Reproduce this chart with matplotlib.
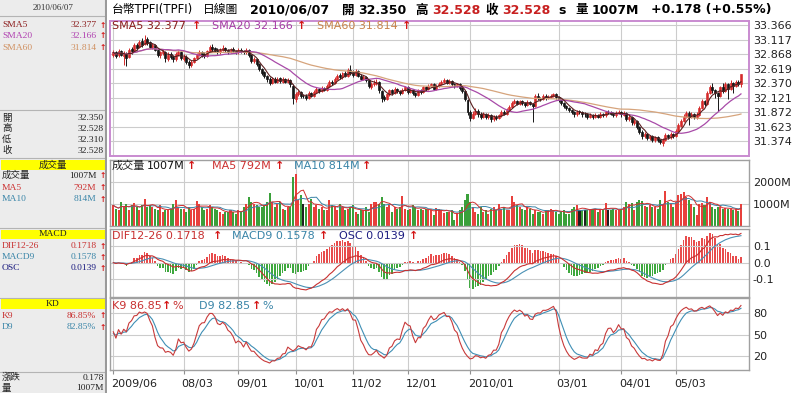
import matplotlib
matplotlib.use("Agg")
import matplotlib.pyplot as plt
import matplotlib.transforms as mtransforms
from matplotlib.patches import Rectangle
import pandas as pd

# ---- data (one value per trading day) ----
opens = [
    32.86, 32.90, 32.85, 32.92, 32.84, 32.88, 32.82, 32.96, 32.93, 33.03,
    32.99, 33.09, 33.04, 33.13, 33.08, 32.99, 33.02, 32.94, 32.85, 32.89,
    32.91, 32.79, 32.87, 32.83, 32.78, 32.87, 32.90, 32.79, 32.83, 32.74,
    32.68, 32.74, 32.80, 32.86, 32.91, 32.87, 32.84, 32.92, 33.00, 32.97,
    32.94, 32.90, 32.95, 32.98, 32.94, 32.91, 32.96, 32.93, 32.90, 32.95,
    32.92, 32.90, 32.94, 32.85, 32.75, 32.79, 32.70, 32.62, 32.56, 32.50,
    32.45, 32.38, 32.45, 32.40, 32.46, 32.40, 32.44, 32.39, 32.43, 32.33,
    32.10, 32.18, 32.22, 32.16, 32.15, 32.12, 32.20, 32.16, 32.22, 32.27,
    32.24, 32.29, 32.26, 32.32, 32.40, 32.37, 32.44, 32.51, 32.47, 32.55,
    32.50, 32.60, 32.56, 32.52, 32.58, 32.50, 32.44, 32.48, 32.42, 32.31,
    32.35, 32.37, 32.39, 32.24, 32.13, 32.10, 32.18, 32.25, 32.20, 32.27,
    32.24, 32.20, 32.26, 32.30, 32.22, 32.26, 32.20, 32.17, 32.25, 32.22,
    32.30, 32.27, 32.32, 32.35, 32.28, 32.32, 32.36, 32.39, 32.42, 32.38,
    32.41, 32.36, 32.32, 32.35, 32.29, 32.24, 32.08, 31.88, 31.78, 31.85,
    31.90, 31.84, 31.80, 31.84, 31.79, 31.83, 31.76, 31.80, 31.77, 31.82,
    31.88, 31.85, 31.92, 31.97, 32.03, 32.07, 32.02, 32.06, 32.03, 32.00,
    32.05, 32.02, 31.98, 32.15, 32.12, 32.10, 32.16, 32.12, 32.14, 32.16,
    32.18, 32.13, 32.08, 32.03, 31.98, 31.95, 31.91, 31.88, 31.84, 31.89,
    31.88, 31.85, 31.84, 31.80, 31.83, 31.79, 31.83, 31.80, 31.84, 31.82,
    31.88, 31.87, 31.85, 31.82, 31.86, 31.88, 31.83, 31.86, 31.75, 31.79,
    31.69, 31.72, 31.62, 31.54, 31.46, 31.50, 31.43, 31.46, 31.40, 31.44,
    31.40, 31.35, 31.40, 31.48, 31.44, 31.50, 31.46, 31.55, 31.64, 31.72,
    31.80, 31.86, 31.80, 31.84, 31.79, 31.83, 31.95, 32.06, 32.02, 32.20,
    32.30, 32.25, 32.20, 32.16, 32.30, 32.24, 32.35, 32.28, 32.38, 32.33,
    32.40, 32.35,
]
highs = [
    32.95, 32.93, 32.96, 32.95, 32.92, 32.90, 32.98, 33.00, 33.06, 33.07,
    33.12, 33.14, 33.20, 33.16, 33.10, 33.07, 33.04, 32.96, 32.93, 32.96,
    32.93, 32.90, 32.90, 32.86, 32.91, 32.94, 32.92, 32.87, 32.85, 32.77,
    32.77, 32.83, 32.89, 32.94, 32.93, 32.90, 32.95, 33.03, 33.04, 33.00,
    32.97, 32.98, 33.02, 33.00, 32.96, 32.98, 32.99, 32.95, 32.97, 32.97,
    32.95, 32.97, 32.96, 32.87, 32.82, 32.81, 32.72, 32.64, 32.58, 32.52,
    32.47, 32.47, 32.48, 32.48, 32.48, 32.47, 32.46, 32.46, 32.45, 32.35,
    32.22, 32.26, 32.24, 32.19, 32.18, 32.23, 32.22, 32.25, 32.30, 32.29,
    32.32, 32.31, 32.35, 32.43, 32.43, 32.47, 32.53, 32.54, 32.57, 32.58,
    32.63, 32.68, 32.60, 32.62, 32.60, 32.53, 32.51, 32.50, 32.44, 32.39,
    32.42, 32.44, 32.41, 32.26, 32.17, 32.21, 32.28, 32.27, 32.30, 32.29,
    32.26, 32.29, 32.33, 32.32, 32.29, 32.28, 32.22, 32.28, 32.27, 32.33,
    32.32, 32.35, 32.38, 32.37, 32.35, 32.39, 32.43, 32.46, 32.45, 32.44,
    32.43, 32.38, 32.38, 32.37, 32.31, 32.26, 32.10, 31.91, 31.90, 31.95,
    31.93, 31.87, 31.88, 31.86, 31.86, 31.85, 31.83, 31.83, 31.85, 31.91,
    31.91, 31.95, 32.00, 32.06, 32.10, 32.09, 32.09, 32.08, 32.05, 32.08,
    32.07, 32.04, 32.18, 32.20, 32.14, 32.19, 32.18, 32.17, 32.19, 32.21,
    32.20, 32.15, 32.10, 32.05, 32.00, 31.97, 31.93, 31.90, 31.91, 31.92,
    31.90, 31.88, 31.86, 31.86, 31.85, 31.86, 31.85, 31.87, 31.86, 31.90,
    31.91, 31.89, 31.87, 31.89, 31.91, 31.90, 31.89, 31.88, 31.82, 31.81,
    31.75, 31.74, 31.64, 31.56, 31.53, 31.52, 31.49, 31.48, 31.47, 31.46,
    31.42, 31.43, 31.51, 31.50, 31.53, 31.52, 31.58, 31.68, 31.75, 31.84,
    31.90, 31.89, 31.88, 31.86, 31.87, 31.98, 32.10, 32.08, 32.24, 32.34,
    32.37, 32.28, 32.22, 32.33, 32.38, 32.39, 32.37, 32.42, 32.40, 32.43,
    32.42, 32.528,
]
lows = [
    32.82, 32.80, 32.83, 32.84, 32.68, 32.66, 32.80, 32.88, 32.91, 32.95,
    32.97, 33.00, 33.02, 33.03, 32.97, 32.96, 32.92, 32.82, 32.80, 32.86,
    32.74, 32.76, 32.79, 32.74, 32.76, 32.84, 32.77, 32.76, 32.70, 32.63,
    32.65, 32.72, 32.78, 32.84, 32.83, 32.81, 32.82, 32.90, 32.93, 32.90,
    32.87, 32.88, 32.93, 32.91, 32.88, 32.89, 32.90, 32.87, 32.88, 32.89,
    32.87, 32.88, 32.82, 32.72, 32.72, 32.66, 32.58, 32.51, 32.46, 32.40,
    32.34, 32.36, 32.37, 32.38, 32.38, 32.38, 32.37, 32.37, 32.31, 32.02,
    32.05, 32.15, 32.12, 32.11, 32.08, 32.10, 32.13, 32.14, 32.20, 32.21,
    32.22, 32.23, 32.24, 32.30, 32.34, 32.35, 32.42, 32.44, 32.45, 32.47,
    32.48, 32.52, 32.48, 32.50, 32.47, 32.42, 32.42, 32.39, 32.29, 32.28,
    32.32, 32.34, 32.21, 32.05, 32.06, 32.08, 32.16, 32.17, 32.18, 32.21,
    32.17, 32.18, 32.24, 32.19, 32.20, 32.17, 32.13, 32.15, 32.19, 32.20,
    32.24, 32.25, 32.30, 32.25, 32.26, 32.30, 32.34, 32.37, 32.35, 32.36,
    32.33, 32.29, 32.30, 32.26, 32.21, 32.06, 31.82, 31.72, 31.75, 31.82,
    31.80, 31.76, 31.77, 31.75, 31.76, 31.70, 31.73, 31.74, 31.75, 31.80,
    31.82, 31.83, 31.90, 31.95, 32.01, 31.99, 32.00, 32.00, 31.96, 31.98,
    31.99, 31.70, 31.96, 32.09, 32.06, 32.08, 32.09, 32.10, 32.12, 32.14,
    32.10, 32.05, 32.00, 31.95, 31.92, 31.88, 31.84, 31.80, 31.81, 31.84,
    31.80, 31.80, 31.76, 31.77, 31.76, 31.77, 31.77, 31.78, 31.79, 31.80,
    31.84, 31.82, 31.79, 31.80, 31.84, 31.80, 31.81, 31.72, 31.72, 31.66,
    31.66, 31.58, 31.50, 31.42, 31.43, 31.39, 31.40, 31.36, 31.37, 31.36,
    31.32, 31.30, 31.38, 31.41, 31.42, 31.43, 31.44, 31.53, 31.62, 31.70,
    31.78, 31.65, 31.77, 31.75, 31.76, 31.81, 31.93, 31.98, 32.00, 32.18,
    32.20, 32.12, 31.90, 32.14, 32.20, 32.22, 32.10, 32.26, 32.20, 32.31,
    32.32, 32.31,
]
closes = [
    32.90, 32.84, 32.93, 32.86, 32.88, 32.80, 32.95, 32.92, 33.02, 32.98,
    33.08, 33.03, 33.12, 33.07, 33.00, 33.03, 32.95, 32.86, 32.90, 32.92,
    32.80, 32.86, 32.82, 32.78, 32.88, 32.90, 32.80, 32.83, 32.74, 32.68,
    32.74, 32.80, 32.86, 32.90, 32.86, 32.84, 32.92, 32.99, 32.96, 32.93,
    32.90, 32.95, 32.98, 32.94, 32.91, 32.95, 32.93, 32.90, 32.94, 32.92,
    32.90, 32.94, 32.85, 32.76, 32.79, 32.70, 32.62, 32.55, 32.50, 32.45,
    32.38, 32.44, 32.40, 32.45, 32.41, 32.44, 32.40, 32.43, 32.35, 32.12,
    32.18, 32.22, 32.15, 32.15, 32.12, 32.20, 32.16, 32.22, 32.27, 32.24,
    32.29, 32.26, 32.32, 32.40, 32.37, 32.44, 32.50, 32.47, 32.54, 32.50,
    32.60, 32.55, 32.52, 32.58, 32.50, 32.45, 32.48, 32.42, 32.33, 32.36,
    32.38, 32.40, 32.25, 32.12, 32.10, 32.18, 32.25, 32.20, 32.27, 32.24,
    32.20, 32.26, 32.30, 32.22, 32.26, 32.20, 32.17, 32.25, 32.22, 32.30,
    32.27, 32.32, 32.35, 32.28, 32.32, 32.36, 32.39, 32.42, 32.38, 32.41,
    32.36, 32.32, 32.35, 32.29, 32.24, 32.10, 31.88, 31.78, 31.85, 31.90,
    31.84, 31.80, 31.84, 31.79, 31.83, 31.76, 31.80, 31.77, 31.82, 31.88,
    31.85, 31.92, 31.97, 32.03, 32.07, 32.02, 32.06, 32.03, 32.00, 32.05,
    32.02, 31.98, 32.15, 32.12, 32.10, 32.16, 32.12, 32.14, 32.16, 32.18,
    32.13, 32.08, 32.03, 31.98, 31.95, 31.91, 31.88, 31.84, 31.88, 31.88,
    31.84, 31.84, 31.80, 31.83, 31.79, 31.83, 31.80, 31.84, 31.82, 31.87,
    31.87, 31.85, 31.82, 31.86, 31.88, 31.84, 31.86, 31.76, 31.79, 31.70,
    31.72, 31.62, 31.54, 31.46, 31.50, 31.43, 31.46, 31.40, 31.44, 31.40,
    31.36, 31.40, 31.48, 31.44, 31.50, 31.46, 31.55, 31.65, 31.72, 31.80,
    31.86, 31.80, 31.84, 31.79, 31.83, 31.95, 32.06, 32.02, 32.20, 32.30,
    32.25, 32.20, 32.16, 32.30, 32.24, 32.35, 32.28, 32.38, 32.33, 32.40,
    32.35, 32.528,
]
# volume in millions
volumes = [
    940, 790, 720, 1090, 870, 985, 720, 940, 1045, 870,
    720, 940, 1240, 870, 940, 870, 790, 720, 940, 640,
    720, 720, 790, 1015, 1195, 870, 790, 790, 640, 870,
    720, 790, 1135, 1015, 870, 720, 790, 940, 870, 790,
    720, 640, 570, 640, 640, 720, 640, 570, 720, 640,
    870, 1015, 1315, 1090, 1015, 940, 870, 870, 940, 1090,
    1490, 1090, 870, 1015, 1090, 790, 720, 870, 870, 2210,
    2330, 1165, 1390, 1015, 870, 1015, 1240, 870, 940, 790,
    870, 720, 720, 1165, 940, 870, 720, 1015, 870, 720,
    790, 870, 940, 640, 570, 720, 720, 870, 640, 1015,
    1090, 1090, 1015, 1315, 1015, 870, 940, 640, 870, 790,
    870, 1345, 790, 720, 790, 940, 870, 720, 790, 720,
    790, 720, 720, 495, 835, 790, 745, 600, 640, 640,
    745, 270, 570, 720, 870, 1165, 1435, 1090, 870, 640,
    570, 870, 640, 720, 570, 790, 870, 720, 1015, 790,
    870, 720, 720, 1345, 1090, 940, 870, 790, 720, 870,
    790, 570, 720, 640, 640, 570, 720, 720, 790, 720,
    640, 570, 640, 720, 570, 570, 790, 870, 940, 720,
    745, 745, 720, 790, 790, 790, 640, 790, 745, 1045,
    745, 720, 790, 720, 720, 790, 870, 1090, 1015, 1045,
    720, 1090, 1165, 1135, 895, 870, 940, 870, 870, 790,
    1195, 1015, 1570, 1090, 1015, 870, 1090, 1390, 1465, 1540,
    1315, 1165, 1015, 870, 495, 1015, 1045, 940, 1315, 1090,
    870, 790, 850, 860, 760, 840, 780, 780, 720, 760,
    700, 1007,
]

tick_pos = [0, 27, 48, 70, 92, 113, 137, 171, 195, 216]
tick_labels = ["2009/06", "08/03", "09/01", "10/01", "11/02", "12/01",
               "2010/01", "03/01", "04/01", "05/03"]
price_ticks = [31.374, 31.623, 31.872, 32.121, 32.370, 32.619, 32.868, 33.117, 33.366]
vol_ticks = [1000, 2000]
macd_ticks = [-0.1, 0.0, 0.1]
kd_ticks = [20, 50, 80]

# ---- indicators ----
df = pd.DataFrame({"open": opens, "high": highs, "low": lows,
                   "close": closes, "volume": volumes})
df["sma5"] = df["close"].rolling(5, min_periods=1).mean()
df["sma20"] = df["close"].rolling(20, min_periods=1).mean()
df["sma60"] = df["close"].rolling(60, min_periods=1).mean()
df["vma5"] = df["volume"].rolling(5, min_periods=1).mean()
df["vma10"] = df["volume"].rolling(10, min_periods=1).mean()
ema12 = df["close"].ewm(span=12, adjust=False).mean()
ema26 = df["close"].ewm(span=26, adjust=False).mean()
df["dif"] = ema12 - ema26
df["macd9"] = df["dif"].ewm(span=9, adjust=False).mean()
df["osc"] = df["dif"] - df["macd9"]
low9 = df["low"].rolling(9, min_periods=1).min()
high9 = df["high"].rolling(9, min_periods=1).max()
rsv = (df["close"] - low9) / (high9 - low9) * 100
k_vals, d_vals = [], []
k, d = 50.0, 50.0
for r in rsv:
    k = k * 2 / 3 + r / 3
    d = d * 2 / 3 + k / 3
    k_vals.append(k)
    d_vals.append(d)
df["k9"] = k_vals
df["d9"] = d_vals
x = df.index.values

# ---- figure ----
W, H = 800, 393
fig = plt.figure(figsize=(W / 100, H / 100), dpi=100, facecolor="white")

LATIN_CJK = ["DejaVu Sans", "Noto Sans CJK TC"]
RED_ARROW = "#d41515"
GRID = "#cccccc"


def has_cjk(s):
    return any(ord(ch) > 0x2E80 for ch in s)


def px_axes(x0, y0, x1, y1):
    return fig.add_axes([x0 / W, 1 - y1 / H, (x1 - x0) / W, (y1 - y0) / H])


def ftext(px, py, s, color="black", size=8, weight="normal", ha="left"):
    family = LATIN_CJK if has_cjk(s) else "DejaVu Sans"
    fig.text(px / W, 1 - py / H, s, color=color, fontsize=size, fontweight=weight,
             family=family, ha=ha, va="center")


def style_panel(ax, ylim, yticks, ylabels, edge):
    ax.set_xlim(-1.27, 244.2)
    ax.set_ylim(*ylim)
    ax.set_xticks(tick_pos)
    ax.set_xticklabels([])
    ax.set_yticks(yticks)
    ax.set_yticklabels(ylabels)
    ax.yaxis.tick_right()
    ax.tick_params(axis="y", length=0, pad=2.5, labelsize=8, labelcolor="#222222")
    ax.tick_params(axis="x", length=0)
    ax.grid(True, color=GRID, lw=0.8)
    ax.set_axisbelow(True)
    for s in ax.spines.values():
        s.set_color(edge)
        s.set_linewidth(1.0)


# price panel
ax_p = px_axes(110, 20.7, 749.3, 155.7)
style_panel(ax_p, (31.127, 33.445), price_ticks, [f"{v:.3f}" for v in price_ticks], "#c98bd0")
for s in ax_p.spines.values():
    s.set_linewidth(1.4)
up = df["close"] >= df["open"]
body_lo = df[["open", "close"]].min(axis=1)
body_h = (df["close"] - df["open"]).abs().clip(lower=0.006)
ax_p.vlines(x[up], df["low"][up], df["high"][up], color="#d42a2a", lw=0.7)
ax_p.vlines(x[~up], df["low"][~up], df["high"][~up], color="#151515", lw=0.7)
ax_p.bar(x[up], body_h[up], bottom=body_lo[up], width=0.75,
         color="#f06a6a", edgecolor="#d42a2a", linewidth=0.5)
ax_p.bar(x[~up], body_h[~up], bottom=body_lo[~up], width=0.75,
         color="#151515", edgecolor="#151515", linewidth=0.5)
ax_p.plot(x, df["sma60"], color="#d6a47c", lw=0.9)
ax_p.plot(x, df["sma20"], color="#a84aa8", lw=0.9)
ax_p.plot(x, df["sma5"], color="#5a2020", lw=0.8)

# volume panel
ax_v = px_axes(110, 160, 749.3, 226.3)
style_panel(ax_v, (0, 2973), vol_ticks, ["1000M", "2000M"], "#a0a0a0")
chg = df["close"].diff().fillna(df["close"] - df["open"])
vol_colors = ["#e8403c" if c > 0 else ("#3aa03a" if c < 0 else "#202020") for c in chg]
ax_v.bar(x, df["volume"], width=0.78, color=vol_colors, linewidth=0)
ax_v.plot(x, df["vma10"], color="#3a85a8", lw=0.7)
ax_v.plot(x, df["vma5"], color="#d03030", lw=0.7)

# MACD panel: histogram on its own scale underneath the lines
ax_m = px_axes(110, 229, 749.3, 296.7)
ax_o = ax_m.twinx()
style_panel(ax_m, (-0.204, 0.202), macd_ticks, ["-0.1", "0.0", "0.1"], "#a0a0a0")
ax_m.yaxis.set_label_position("right")
ax_o.set_ylim(-0.204 / 2.6, 0.202 / 2.6)
ax_o.set_yticks([])
ax_o.tick_params(left=False, right=False, labelleft=False, labelright=False)
for s in ax_o.spines.values():
    s.set_visible(False)
ax_o.set_zorder(ax_m.get_zorder() - 1)
ax_m.patch.set_visible(False)
osc_colors = ["#e84c4c" if v >= 0 else "#3ea83e" for v in df["osc"]]
ax_o.bar(x, df["osc"], width=0.62, color=osc_colors, linewidth=0)
ax_m.plot(x, df["macd9"], color="#4a90b4", lw=0.8)
ax_m.plot(x, df["dif"], color="#c83030", lw=0.8)

# KD panel
ax_k = px_axes(110, 298.3, 749.3, 370)
style_panel(ax_k, (-0.2, 101.2), kd_ticks, ["20", "50", "80"], "#a0a0a0")
ax_k.plot(x, df["d9"], color="#3f8fb5", lw=0.8)
ax_k.plot(x, df["k9"], color="#c83a3a", lw=0.8)
ax_k.tick_params(axis="x", length=3, color="#909090", direction="out")
trans = mtransforms.blended_transform_factory(ax_k.transData, ax_k.transAxes)
shift = mtransforms.ScaledTranslation(-2 / 100, 0, fig.dpi_scale_trans)
for pos, lab in zip(tick_pos, tick_labels):
    ax_k.text(pos, -0.195, lab, transform=trans + shift, ha="left", va="center",
              fontsize=8, color="#222222")

# ---- title line ----
ftext(112, 10, "台幣TPFI(TPFI)", size=8.5)
ftext(203, 10, "日線圖", size=8.5)
ftext(250, 10, "2010/06/07", size=9, weight="bold")
ftext(342, 10, "開", size=9, weight="bold")
ftext(358, 10, "32.350", size=9, weight="bold")
ftext(415, 10, "高", size=9, weight="bold")
ftext(432, 10, "32.528", color="#c82020", size=9, weight="bold")
ftext(485, 10, "收", size=9, weight="bold")
ftext(502, 10, "32.528", color="#c82020", size=9, weight="bold")
ftext(558, 10, "s", size=9, weight="bold")
ftext(575, 10, "量", size=9, weight="bold")
ftext(592, 10, "1007M", size=9, weight="bold")
ftext(651, 10, "+0.178 (+0.55%)", size=9, weight="bold")

# ---- legends inside the panels ----
ftext(112.3, 26, "SMA5 32.377", color="#8b1c1c")
ftext(192, 26, "↑", color=RED_ARROW, weight="bold")
ftext(212, 26, "SMA20 32.166", color="#a63ca6")
ftext(297, 26, "↑", color=RED_ARROW, weight="bold")
ftext(317, 26, "SMA60 31.814", color="#c8824a")
ftext(402, 26, "↑", color=RED_ARROW, weight="bold")

ftext(112, 165.7, "成交量", color="#222222")
ftext(147, 165.7, "1007M", color="#111111")
ftext(187, 165.7, "↑", color=RED_ARROW, weight="bold")
ftext(212, 165.7, "MA5 792M", color="#cc3030")
ftext(275, 165.7, "↑", color=RED_ARROW, weight="bold")
ftext(294, 165.7, "MA10 814M", color="#3a85a8")
ftext(362, 165.7, "↑", color=RED_ARROW, weight="bold")

ftext(112, 236, "DIF12-26 0.1718", color="#c83030")
ftext(213, 236, "↑", color=RED_ARROW, weight="bold")
ftext(232, 236, "MACD9 0.1578", color="#3a85a8")
ftext(319, 236, "↑", color=RED_ARROW, weight="bold")
ftext(339, 236, "OSC 0.0139", color="#1c1c80")
ftext(409, 236, "↑", color=RED_ARROW, weight="bold")

ftext(112, 305.7, "K9 86.85", color="#c83030")
ftext(162, 305.7, "↑", color=RED_ARROW, weight="bold")
ftext(172.5, 305.7, "%", color="#c83030")
ftext(199, 305.7, "D9 82.85", color="#3a85a8")
ftext(252, 305.7, "↑", color=RED_ARROW, weight="bold")
ftext(262.5, 305.7, "%", color="#3a85a8")

# ---- left info panel ----
axl = fig.add_axes([0, 0, 107 / W, 1])
axl.set_xlim(0, 107)
axl.set_ylim(H, 0)
axl.axis("off")
axl.add_patch(Rectangle((0, 0), 107, H, facecolor="#ececec", edgecolor="none"))
for yy in [16, 110, 157.5, 227.5, 297.5, 371.5]:
    axl.plot([0, 107], [yy, yy], color="#b4b4b4", lw=0.8)
axl.plot([106.5, 106.5], [0, H], color="#9a9a9a", lw=1.5)


def serif_family(s):
    return ["Liberation Serif", "Noto Sans CJK TC"] if has_cjk(s) else "Liberation Serif"


for y0, y1, lab in [(160, 169.5, "成交量"), (229.5, 239, "MACD"), (299, 309, "KD")]:
    axl.add_patch(Rectangle((1, y0), 104.5, y1 - y0, facecolor="#ffff00", edgecolor="none"))
    axl.text(53, (y0 + y1) / 2, lab, ha="center", va="center", fontsize=6.8,
             family=serif_family(lab), color="#222222")

axl.text(53, 8, "2010/06/07", ha="center", va="center", fontsize=6.5,
         family="Liberation Serif", color="#333333")


def info_row(py, label, value, color, arrow=True):
    axl.text(2, py, label, ha="left", va="center", fontsize=6.8,
             family=serif_family(label), color=color)
    right = 96.5 if arrow else 104
    axl.text(right, py, value, ha="right", va="center", fontsize=6.8,
             family="Liberation Serif", color=color)
    if arrow:
        axl.text(99.5, py, "↑", ha="left", va="center", fontsize=5.5, fontweight="bold",
                 color=RED_ARROW)


info_row(25, "SMA5", "32.377", "#8b1c1c")
info_row(36, "SMA20", "32.166", "#b040b0")
info_row(48, "SMA60", "31.814", "#d09060")
info_row(118, "開", "32.350", "#222222", arrow=False)
info_row(128.7, "高", "32.528", "#222222", arrow=False)
info_row(139.7, "低", "32.310", "#222222", arrow=False)
info_row(150.7, "收", "32.528", "#222222", arrow=False)
info_row(175.7, "成交量", "1007M", "#222222")
info_row(187.7, "MA5", "792M", "#cc3030")
info_row(199, "MA10", "814M", "#3a85a8")
info_row(246.3, "DIF12-26", "0.1718", "#c83030")
info_row(257.3, "MACD9", "0.1578", "#3a85a8")
info_row(268.3, "OSC", "0.0139", "#1c1c80")
info_row(315.7, "K9", "86.85%", "#c83030")
info_row(327, "D9", "82.85%", "#3a85a8")
info_row(377.7, "漲跌", "0.178", "#222222", arrow=False)
info_row(388, "量", "1007M", "#222222", arrow=False)

fig.savefig("out.png", dpi=100, facecolor="white")
